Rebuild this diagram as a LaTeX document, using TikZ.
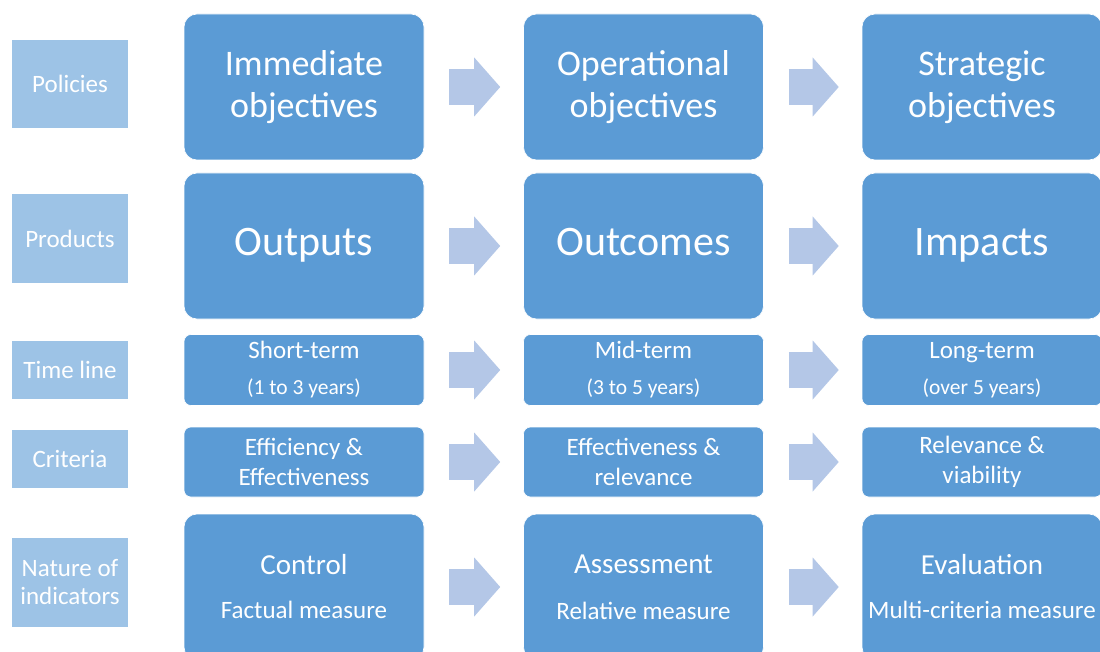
\documentclass[tikz,border=0pt]{standalone}
\usepackage{fontspec}
\setmainfont{Carlito}
\usetikzlibrary{arrows.meta}

\definecolor{boxblue}{HTML}{5B9BD5}
\definecolor{labelblue}{HTML}{9DC3E6}
\definecolor{arrowblue}{HTML}{B4C7E7}

\begin{document}
\begin{tikzpicture}[
        x=1pt,
        y=-1pt,
        stage/.style={
            rectangle,
            rounded corners=13pt,
            fill=boxblue,
            draw=white,
            line width=0.6pt,
            text=white,
            align=flush center,
            text width=236pt,
            inner sep=0pt,
            minimum width=240pt
        },
        big/.style={
            stage,
            minimum height=146pt
        },
        slim/.style={
            stage,
            rounded corners=7pt,
            minimum height=71pt,
            font=\fontsize{25}{30}\selectfont
        },
        rowlabel/.style={
            rectangle,
            fill=labelblue,
            text=white,
            align=flush center,
            inner sep=0pt,
            text width=112pt,
            minimum width=116pt,
            font=\fontsize{25}{28}\selectfont
        },
        flow/.style={
            arrowblue,
            line width=36pt,
            shorten <=25pt,
            shorten >=23pt,
            -{Triangle[length=26pt,width=59pt,line width=0pt]}
        }
    ]

    \useasboundingbox[fill=white] (0,0) rectangle (1100,652);

    % Row labels
    \node[rowlabel, minimum height=88pt] (policies) at (70,84) {Policies};
    \node[rowlabel, minimum height=89pt] (products) at (70,238.5) {Products};
    \node[rowlabel, minimum height=58pt] (timeline) at (70,370) {Time line};
    \node[rowlabel, minimum height=58pt] (criteria) at (70,459) {Criteria};
    \node[rowlabel, minimum height=89pt] (nature) at (70,582.5) {Nature of\\indicators};

    % Short-term column
    \node[big, font=\fontsize{36}{42}\selectfont] (s1) at (304,87) {Immediate\\objectives};
    \node[big, font=\fontsize{42}{50}\selectfont, text height=28pt, text depth=9pt] (s2) at (304,246) {Outputs};
    \node[slim] (s3) at (304,370) {Short-term\\[6pt]{\fontsize{21.5}{30}\selectfont (1 to 3 years)}};
    \node[slim, minimum height=70pt] (s4) at (304,462) {Efficiency \&\\Effectiveness};
    \node[big, font=\fontsize{25}{44}\selectfont] (s5) at (304,587) {{\fontsize{29}{44}\selectfont Control}\\Factual measure};

    % Mid-term column
    \node[big, font=\fontsize{36}{42}\selectfont] (m1) at (643.5,87) {Operational\\objectives};
    \node[big, font=\fontsize{42}{50}\selectfont, text height=28pt, text depth=9pt] (m2) at (643.5,246) {Outcomes};
    \node[slim] (m3) at (643.5,370) {Mid-term\\[6pt]{\fontsize{21.5}{30}\selectfont (3 to 5 years)}};
    \node[slim, minimum height=70pt] (m4) at (643.5,462) {Effectiveness \&\\relevance};
    \node[big, font=\fontsize{25}{46}\selectfont] (m5) at (643.5,587) {{\fontsize{29}{46}\selectfont Assessment}\\Relative measure};

    % Long-term column
    \node[big, font=\fontsize{36}{42}\selectfont] (l1) at (982,87) {Strategic\\objectives};
    \node[big, font=\fontsize{42}{50}\selectfont, text height=28pt, text depth=9pt] (l2) at (982,246) {Impacts};
    \node[slim] (l3) at (982,370) {Long-term\\[6pt]{\fontsize{21.5}{30}\selectfont (over 5 years)}};
    \node[slim, minimum height=70pt] (l4) at (982,462) {Relevance \&\\viability};
    \node[big, font=\fontsize{25}{44}\selectfont] (l5) at (982,587) {{\fontsize{29}{44}\selectfont Evaluation}\\Multi-criteria measure};

    % Block arrows between the stages
    \foreach \r in {1,...,5} {
        \draw[flow] (s\r) -- (m\r);
        \draw[flow] (m\r) -- (l\r);
    }

\end{tikzpicture}
\end{document}
